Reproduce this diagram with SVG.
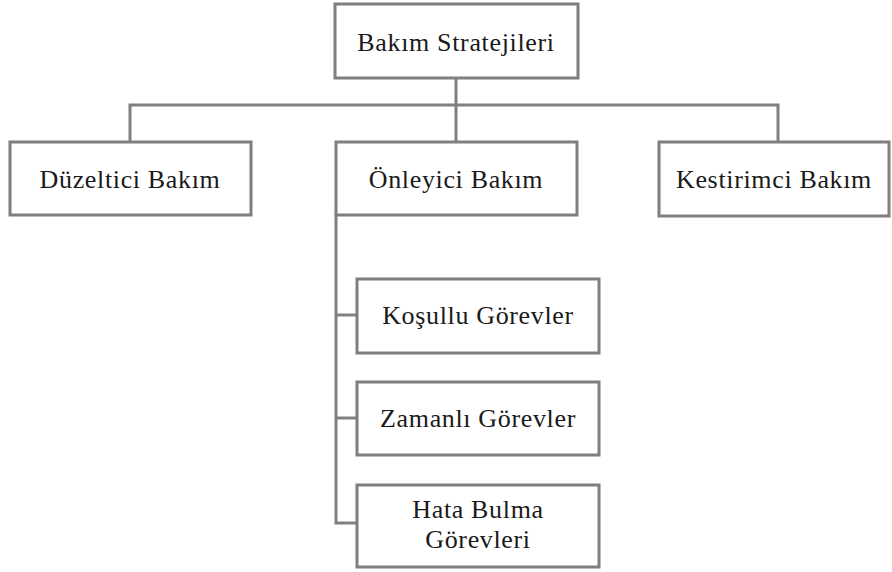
<svg xmlns="http://www.w3.org/2000/svg" width="892" height="572" viewBox="0 0 892 572">
  <style>
    .box { fill: #ffffff; stroke: #7f7f7f; stroke-width: 3; }
    .link { fill: none; stroke: #808080; stroke-width: 3; }
    .label { font-family: "Liberation Serif", "Times New Roman", serif; font-size: 26px; letter-spacing: 0.65px; fill: #1a1a1a; text-anchor: middle; }
  </style>
  <rect width="892" height="572" fill="#ffffff"/>

  <g id="connectors">
    <path class="link" d="M456 78 V142"/>
    <path class="link" d="M130 142 V105 H778 V142"/>
    <path class="link" d="M336 215 V523 H357"/>
    <path class="link" d="M336 315 H357"/>
    <path class="link" d="M336 418 H357"/>
  </g>

  <g id="bakim-stratejileri">
    <rect class="box" x="335" y="4" width="243" height="74"/>
    <text class="label" x="456" y="51">Bakım Stratejileri</text>
  </g>

  <g id="duzeltici-bakim">
    <rect class="box" x="10" y="142" width="241" height="73"/>
    <text class="label" x="130" y="188">Düzeltici Bakım</text>
  </g>

  <g id="onleyici-bakim">
    <rect class="box" x="336" y="142" width="241" height="73"/>
    <text class="label" x="456" y="188">Önleyici Bakım</text>
  </g>

  <g id="kestirimci-bakim">
    <rect class="box" x="659" y="142" width="230" height="74"/>
    <text class="label" x="774" y="188">Kestirimci Bakım</text>
  </g>

  <g id="kosullu-gorevler">
    <rect class="box" x="357" y="279" width="242" height="74"/>
    <text class="label" x="478" y="324">Koşullu Görevler</text>
  </g>

  <g id="zamanli-gorevler">
    <rect class="box" x="357" y="382" width="242" height="73"/>
    <text class="label" x="478" y="427">Zamanlı Görevler</text>
  </g>

  <g id="hata-bulma-gorevleri">
    <rect class="box" x="357" y="485" width="242" height="82"/>
    <text class="label" x="478" y="518">Hata Bulma</text>
    <text class="label" x="478" y="548">Görevleri</text>
  </g>
</svg>
